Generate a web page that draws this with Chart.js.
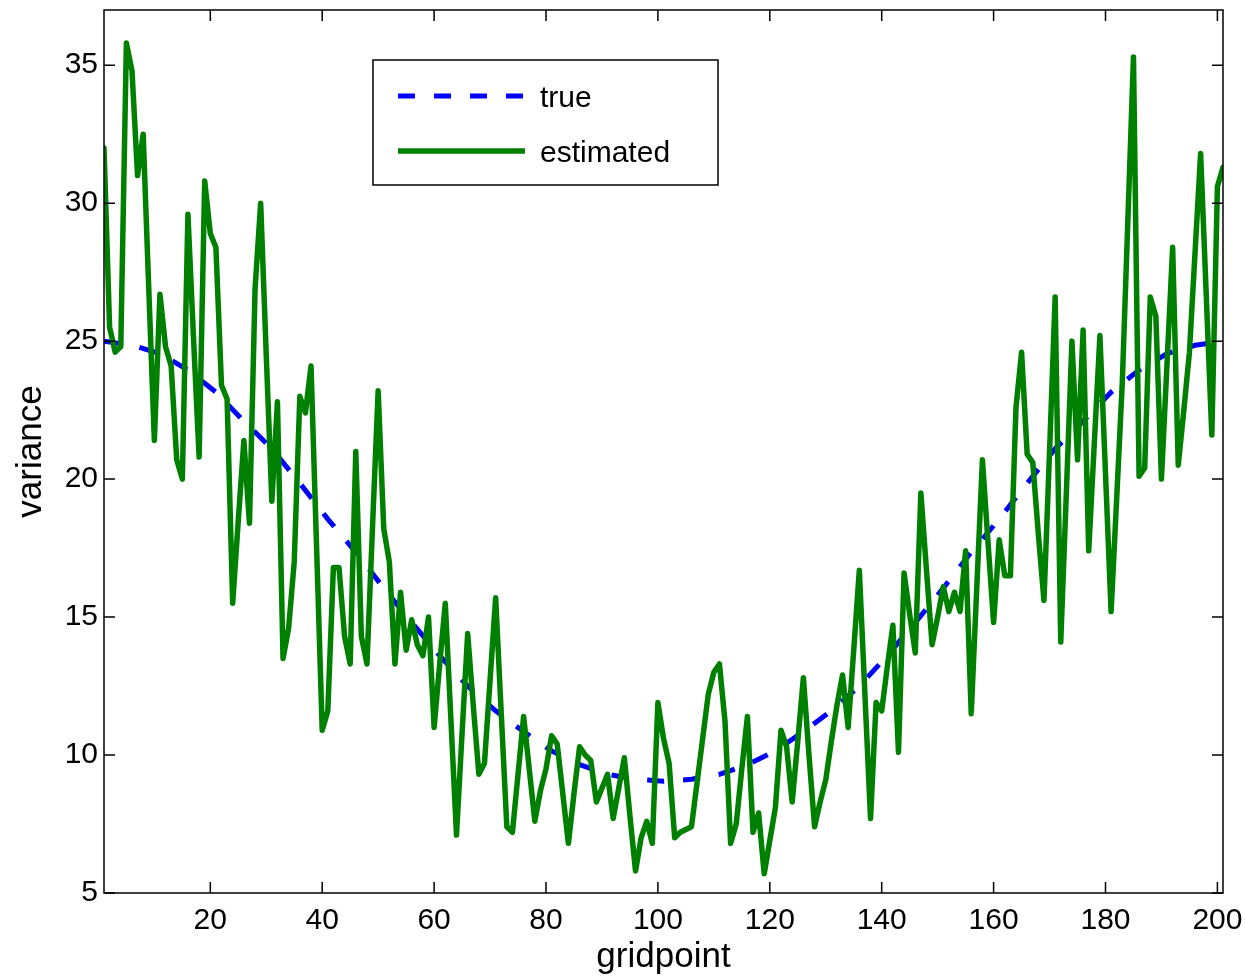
<!DOCTYPE html>
<html>
<head>
<meta charset="utf-8">
<script src="https://cdn.jsdelivr.net/npm/chart.js@4"></script>
<style>
  body { margin: 0; background: #fff; }
  #wrap { width: 1245px; height: 979px; }
</style>
</head>
<body>
<div id="wrap"><canvas id="chart" width="1245" height="979"></canvas></div>
<script>
// gridpoints 1..201
const gridpoints = Array.from({ length: 201 }, (_, i) => i + 1);

// estimated variance, one value per gridpoint
const estimated = [
  32.0, 25.5, 24.6, 24.8, 35.8, 34.8, 31.0, 32.5, 26.9, 21.4,
  26.7, 24.8, 24.1, 20.7, 20.0, 29.6, 25.1, 20.8, 30.8, 28.9,
  28.4, 23.4, 22.9, 15.5, 18.5, 21.4, 18.4, 26.9, 30.0, 24.5,
  19.2, 22.8, 13.5, 14.6, 17.0, 23.0, 22.4, 24.1, 17.5, 10.9,
  11.6, 16.8, 16.8, 14.3, 13.3, 21.0, 14.3, 13.3, 18.3, 23.2,
  18.2, 17.0, 13.3, 15.9, 13.8, 14.9, 14.0, 13.6, 15.0, 11.0,
  13.3, 15.5, 11.3, 7.1, 10.8, 14.4, 11.8, 9.3, 9.7, 12.7,
  15.7, 11.5, 7.4, 7.2, 9.3, 11.4, 9.5, 7.6, 8.7, 9.5,
  10.7, 10.4, 8.6, 6.8, 8.6, 10.3, 10.0, 9.8, 8.3, 8.8,
  9.3, 7.7, 8.8, 9.9, 7.8, 5.8, 7.0, 7.6, 6.8, 11.9,
  10.6, 9.7, 7.0, 7.2, 7.3, 7.4, 9.0, 10.6, 12.2, 13.0,
  13.3, 11.2, 6.8, 7.5, 9.5, 11.4, 7.2, 7.9, 5.7, 6.9,
  8.1, 10.9, 10.3, 8.3, 10.5, 12.8, 10.0, 7.4, 8.3, 9.1,
  10.5, 11.8, 12.9, 11.0, 13.8, 16.7, 12.2, 7.7, 11.9, 11.6,
  13.2, 14.7, 10.1, 16.6, 15.1, 13.7, 19.5, 16.7, 14.0, 15.0,
  16.1, 15.2, 15.9, 15.2, 17.4, 11.5, 16.1, 20.7, 17.7, 14.8,
  17.8, 16.5, 16.5, 22.6, 24.6, 20.9, 20.6, 18.0, 15.6, 21.0,
  26.6, 14.1, 19.5, 25.0, 20.7, 25.4, 17.4, 21.3, 25.2, 20.2,
  15.2, 19.3, 23.5, 29.4, 35.3, 20.1, 20.4, 26.6, 25.9, 20.0,
  24.2, 28.4, 20.5, 22.5, 24.6, 28.2, 31.8, 26.7, 21.6, 30.6,
  31.3
];

// true variance, read every 5 gridpoints
const trueX = [
  1, 6, 11, 16, 21, 26, 31, 36, 41, 46, 51, 56, 61, 66, 71, 76, 81, 86, 91, 96,
  101, 106, 111, 116, 121, 126, 131, 136, 141, 146, 151, 156, 161, 166, 171, 176,
  181, 186, 191, 196, 201
];
const trueY = [
  25.0, 24.85, 24.55, 23.95, 23.15, 22.1, 21.1, 19.85, 18.55, 17.35, 16.05, 14.8,
  13.6, 12.5, 11.6, 10.85, 10.15, 9.65, 9.3, 9.12, 9.05, 9.12, 9.3, 9.65, 10.15,
  10.85, 11.6, 12.5, 13.6, 14.8, 16.05, 17.35, 18.55, 19.85, 21.1, 22.1, 23.15,
  23.95, 24.55, 24.85, 25.0
];

const xTicks = [20, 40, 60, 80, 100, 120, 140, 160, 180, 200];
const yTicks = [5, 10, 15, 20, 25, 30, 35];

const FONT = "'Liberation Sans', Arial, Helvetica, sans-serif";

// box, inward ticks on all four sides, and the legend
const framePlugin = {
  id: 'frame',
  afterDatasetsDraw(chart) {
    const { ctx, chartArea: a, scales } = chart;
    const tick = 11;
    ctx.save();
    ctx.strokeStyle = '#000';
    ctx.lineWidth = 1.5;
    ctx.strokeRect(a.left, a.top, a.right - a.left, a.bottom - a.top);
    ctx.beginPath();
    xTicks.forEach(v => {
      const px = scales.x.getPixelForValue(v);
      ctx.moveTo(px, a.bottom); ctx.lineTo(px, a.bottom - tick);
      ctx.moveTo(px, a.top); ctx.lineTo(px, a.top + tick);
    });
    yTicks.forEach(v => {
      const py = scales.y.getPixelForValue(v);
      ctx.moveTo(a.left, py); ctx.lineTo(a.left + tick, py);
      ctx.moveTo(a.right, py); ctx.lineTo(a.right - tick, py);
    });
    ctx.stroke();

    // legend
    const box = { x: 373, y: 60, w: 345, h: 125 };
    ctx.fillStyle = '#fff';
    ctx.fillRect(box.x, box.y, box.w, box.h);
    ctx.lineWidth = 1.5;
    ctx.strokeStyle = '#000';
    ctx.strokeRect(box.x, box.y, box.w, box.h);
    const rows = [96, 151];
    chart.data.datasets.forEach((ds, i) => {
      const y = rows[i];
      ctx.beginPath();
      ctx.setLineDash(ds.borderDash || []);
      ctx.lineCap = 'butt';
      ctx.lineWidth = ds.borderWidth;
      ctx.strokeStyle = ds.borderColor;
      ctx.moveTo(398, y);
      ctx.lineTo(525, y);
      ctx.stroke();
      ctx.setLineDash([]);
      ctx.fillStyle = '#000';
      ctx.font = '30px ' + FONT;
      ctx.textBaseline = 'middle';
      ctx.textAlign = 'left';
      ctx.fillText(ds.label, 540, y + 3);
    });
    ctx.restore();
  }
};

new Chart(document.getElementById('chart'), {
  type: 'line',
  data: {
    datasets: [
      {
        label: 'true',
        data: trueX.map((v, i) => ({ x: v, y: trueY[i] })),
        borderColor: '#0000ff',
        borderWidth: 5,
        borderDash: [17, 19],
        borderCapStyle: 'butt',
        pointRadius: 0,
        tension: 0,
        order: 2
      },
      {
        label: 'estimated',
        data: gridpoints.map((g, i) => ({ x: g, y: estimated[i] })),
        borderColor: '#008000',
        borderWidth: 5.5,
        borderJoinStyle: 'round',
        borderCapStyle: 'round',
        pointRadius: 0,
        tension: 0,
        order: 1
      }
    ]
  },
  options: {
    responsive: false,
    animation: false,
    events: [],
    layout: { padding: { top: 10, right: 22, bottom: 0, left: 0 } },
    plugins: { legend: { display: false }, tooltip: { enabled: false } },
    scales: {
      x: {
        type: 'linear',
        min: 1,
        max: 201,
        grid: { display: false, drawTicks: false },
        border: { display: false },
        afterBuildTicks: s => { s.ticks = xTicks.map(v => ({ value: v })); },
        afterFit: s => { s.height = 86; s.paddingLeft = 0; s.paddingRight = 0; },
        ticks: { color: '#000', font: { family: FONT, size: 30 }, padding: 10, maxRotation: 0, autoSkip: false },
        title: { display: true, text: 'gridpoint', color: '#000', font: { family: FONT, size: 35 }, padding: { top: 0, bottom: 1 } }
      },
      y: {
        type: 'linear',
        min: 5,
        max: 37,
        grid: { display: false, drawTicks: false },
        border: { display: false },
        afterBuildTicks: s => { s.ticks = yTicks.map(v => ({ value: v })); },
        afterFit: s => { s.width = 104; s.paddingTop = 0; s.paddingBottom = 0; },
        ticks: { color: '#000', font: { family: FONT, size: 30 }, padding: 6, autoSkip: false },
        title: { display: true, text: 'variance', color: '#000', font: { family: FONT, size: 35 }, padding: { top: 10, bottom: 0 } }
      }
    }
  },
  plugins: [framePlugin]
});
</script>
</body>
</html>
